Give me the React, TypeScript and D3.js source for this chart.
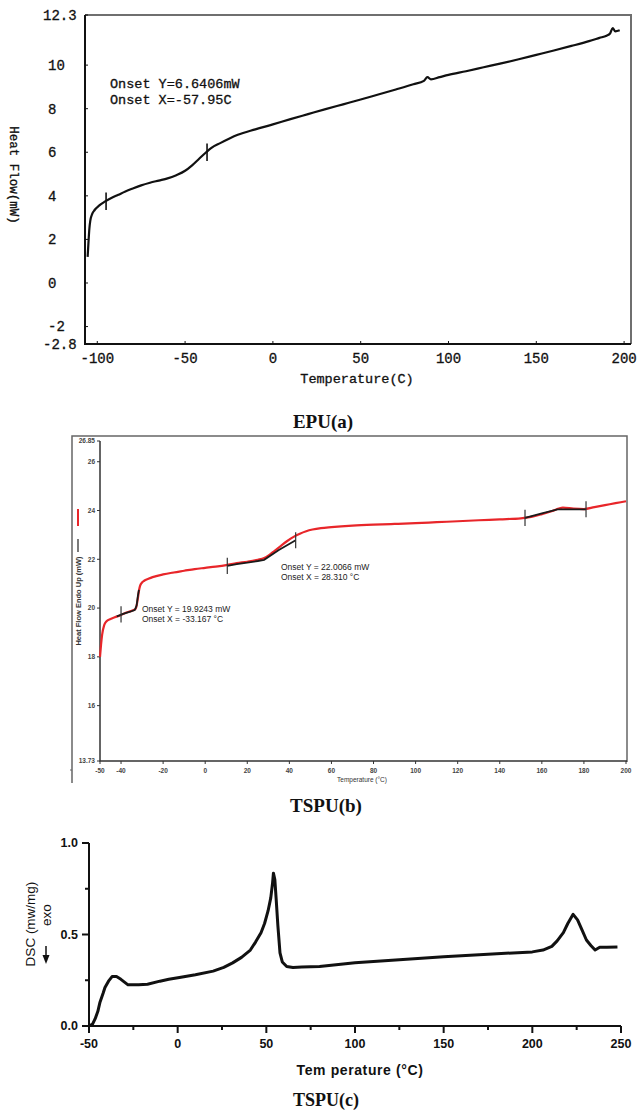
import * as d3 from 'd3';
import { useEffect, useRef } from 'react';

// EPU(a) heat flow curve
const epuTemp = [-105.5, -105, -104.5, -104, -103, -101.5, -99, -96, -92, -88, -84, -80, -75, -70, -65, -60, -55, -50, -46, -42, -38, -35, -30, -25, -20, -10, 0, 10, 20, 30, 40, 50, 60, 70, 80, 86, 88, 90, 95, 100, 110, 120, 130, 140, 150, 160, 170, 180, 186, 190, 192, 193.5, 195, 197.5];
const epuFlow = [1.2, 1.9, 2.5, 2.85, 3.15, 3.35, 3.55, 3.72, 3.9, 4.05, 4.2, 4.33, 4.48, 4.6, 4.7, 4.8, 4.95, 5.15, 5.4, 5.7, 6.0, 6.2, 6.42, 6.62, 6.8, 7.05, 7.28, 7.52, 7.75, 7.98, 8.2, 8.42, 8.65, 8.88, 9.12, 9.28, 9.45, 9.35, 9.45, 9.55, 9.72, 9.9, 10.08, 10.27, 10.47, 10.67, 10.88, 11.1, 11.25, 11.35, 11.45, 11.7, 11.55, 11.6];
const epuMarkTemp = [-95, -37.5];
const epuMarkFlow = [3.75, 6.0];
const epuYTicks = [12.3, 10, 8, 6, 4, 2, 0, -2, -2.8];
const epuYLabels = ['12.3', '10', '8', '6', '4', '2', '0', '-2', '-2.8'];
const epuXTicks = [-100, -50, 0, 50, 100, 150, 200];
const epuNotes = ['Onset Y=6.6406mW', 'Onset X=-57.95C'];

// TSPU(b) heat flow curve (red) and the black baseline fits
const tspuBTemp = [-50, -49.5, -49, -48, -47, -45, -43, -40, -38, -36, -34, -33, -32.5, -32, -31.5, -31, -30, -29, -27, -25, -20, -15, -10, -5, 0, 5, 10, 15, 20, 25, 28, 30, 33, 36, 39, 42, 45, 48, 51, 55, 60, 70, 80, 90, 100, 110, 120, 130, 140, 150, 155, 160, 165, 168, 170, 175, 180, 185, 190, 195, 200];
const tspuBFlow = [18.0, 18.5, 18.9, 19.3, 19.45, 19.55, 19.62, 19.72, 19.8, 19.86, 19.92, 19.98, 20.15, 20.4, 20.7, 20.9, 21.05, 21.12, 21.2, 21.27, 21.38, 21.46, 21.53, 21.6, 21.65, 21.7, 21.76, 21.84, 21.9, 21.98, 22.05, 22.15, 22.35, 22.55, 22.75, 22.92, 23.05, 23.15, 23.22, 23.28, 23.32, 23.38, 23.42, 23.45, 23.48, 23.52, 23.56, 23.6, 23.64, 23.68, 23.74, 23.85, 23.98, 24.08, 24.12, 24.08, 24.06, 24.14, 24.22, 24.3, 24.38];
const tspuBBaseTemp = [
  [-42, -39, -36, -33.5, -32.6, -32, -31.5],
  [10.5, 15, 20, 25, 28, 35, 43],
  [152, 160, 167.5, 181],
];
const tspuBBaseFlow = [
  [19.66, 19.76, 19.84, 19.92, 20.1, 20.5, 20.75],
  [21.73, 21.8, 21.86, 21.93, 21.98, 22.38, 22.78],
  [23.7, 23.88, 24.05, 24.05],
];
const tspuBMarkTemp = [-40, 10.5, 43, 152, 181];
const tspuBMarkFlow = [19.74, 21.73, 22.78, 23.7, 24.05];
const tspuBYTicks = [26.85, 26, 24, 22, 20, 18, 16, 13.73];
const tspuBXTicks = [-50, -40, -20, 0, 20, 40, 60, 80, 100, 120, 140, 160, 180, 200];
const tspuBNotes1 = ['Onset Y = 19.9243 mW', 'Onset X = -33.167 °C'];
const tspuBNotes2 = ['Onset Y = 22.0066 mW', 'Onset X = 28.310 °C'];

// TSPU(c) DSC curve
const tspuCTemp = [-50, -48, -46.5, -45, -43.8, -42, -41, -39, -37, -34.5, -32, -28, -22, -17, -10, -5, 1, 10, 20, 26, 31, 36, 41, 44, 47, 49, 51, 52.5, 53.5, 54, 54.8, 55.5, 56.5, 57.7, 59, 61.5, 65, 70, 80, 100, 125, 150, 175, 200, 206, 211, 214, 217.5, 220, 223, 225.5, 228, 230.5, 233, 235.4, 238, 242, 248];
const tspuCDsc = [0.0, 0.01, 0.04, 0.08, 0.13, 0.18, 0.21, 0.245, 0.27, 0.27, 0.255, 0.225, 0.225, 0.228, 0.245, 0.255, 0.265, 0.28, 0.3, 0.32, 0.345, 0.375, 0.415, 0.46, 0.51, 0.56, 0.63, 0.7, 0.78, 0.835, 0.8, 0.7, 0.55, 0.4, 0.35, 0.325, 0.32, 0.322, 0.325, 0.345, 0.362, 0.378, 0.392, 0.405, 0.415, 0.435, 0.465, 0.51, 0.56, 0.61, 0.58, 0.525, 0.47, 0.44, 0.415, 0.43, 0.43, 0.432];
const tspuCYTicks = [0, 0.5, 1];
const tspuCYLabels = ['0.0', '0.5', '1.0'];
const tspuCYMinor = [0.25, 0.75];
const tspuCXTicks = [-50, 0, 50, 100, 150, 200, 250];
const tspuCXMinor = [-25, 25, 75, 125, 175, 225];

const App = () => {
  const svgRef = useRef(null);

  useEffect(() => {
    const width = 637;
    const height = 1111;
    const svg = d3.select(svgRef.current);
    svg.selectAll('*').remove();
    svg.attr('width', width).attr('height', height);
    svg.append('rect').attr('width', width).attr('height', height).attr('fill', '#fff');

    const mono = '"Liberation Mono", "DejaVu Sans Mono", monospace';
    const serif = '"Liberation Serif", "DejaVu Serif", serif';
    const sans = '"Liberation Sans", Arial, sans-serif';

    // ---------- EPU(a) ----------
    const xA = d3.scaleLinear().domain([-107, 204.5]).range([85, 632]);
    const yA = d3.scaleLinear().domain([-2.8, 12.3]).range([344, 15]);
    const a = svg.append('g');
    const [ax0, ax1] = xA.range();
    const [ay0, ay1] = yA.range();

    // grey frame top and right
    a.append('path')
      .attr('d', `M${ax0},${ay1}H${ax1 - 1}V${ay0}`)
      .attr('fill', 'none')
      .attr('stroke', '#6f6f6f')
      .attr('stroke-width', 2);
    // black axes
    a.append('path')
      .attr('d', `M${ax0},${ay1}V${ay0}H${ax1 - 1}`)
      .attr('fill', 'none')
      .attr('stroke', '#111')
      .attr('stroke-width', 2);

    a.selectAll('.ytick')
      .data(epuYTicks)
      .enter()
      .append('line')
      .attr('x1', ax0)
      .attr('x2', ax0 + 3)
      .attr('y1', (d) => yA(d))
      .attr('y2', (d) => yA(d))
      .attr('stroke', '#111');
    a.selectAll('.ylab')
      .data(epuYTicks)
      .enter()
      .append('text')
      .attr('x', (d, i) => (epuYLabels[i].length > 2 ? 43 : 48))
      .attr('y', (d) => yA(d))
      .attr('dy', '0.35em')
      .style('font-family', mono)
      .style('font-size', '14px')
      .attr('fill', '#111')
      .attr('stroke', '#111')
      .attr('stroke-width', 0.3)
      .text((d, i) => epuYLabels[i]);

    a.selectAll('.xtick')
      .data(epuXTicks)
      .enter()
      .append('line')
      .attr('x1', (d) => xA(d))
      .attr('x2', (d) => xA(d))
      .attr('y1', ay0)
      .attr('y2', ay0 - 3)
      .attr('stroke', '#111');
    a.selectAll('.xlab')
      .data(epuXTicks)
      .enter()
      .append('text')
      .attr('x', (d) => xA(d))
      .attr('y', 358)
      .attr('dy', '0.35em')
      .style('text-anchor', 'middle')
      .style('font-family', mono)
      .style('font-size', '14px')
      .attr('fill', '#111')
      .attr('stroke', '#111')
      .attr('stroke-width', 0.3)
      .text((d) => String(d));

    a.append('text')
      .attr('x', 357)
      .attr('y', 378)
      .attr('dy', '0.35em')
      .style('text-anchor', 'middle')
      .style('font-family', mono)
      .style('font-size', '13.5px')
      .attr('fill', '#111')
      .attr('stroke', '#111')
      .attr('stroke-width', 0.3)
      .text('Temperature(C)');
    a.append('text')
      .attr('transform', 'translate(14,175) rotate(90)')
      .attr('dy', '0.35em')
      .style('text-anchor', 'middle')
      .style('font-family', mono)
      .style('font-size', '12.5px')
      .attr('fill', '#111')
      .attr('stroke', '#111')
      .attr('stroke-width', 0.3)
      .text('Heat Flow(mW)');

    epuNotes.forEach((t, i) => {
      a.append('text')
        .attr('x', 110)
        .attr('y', 83 + i * 16)
        .attr('dy', '0.35em')
        .style('font-family', mono)
        .style('font-size', '13.5px')
        .attr('fill', '#111')
        .attr('stroke', '#111')
        .attr('stroke-width', 0.3)
        .text(t);
    });

    const lineA = d3
      .line<number>()
      .x((d, i) => xA(epuTemp[i]))
      .y((d) => yA(d))
      .curve(d3.curveMonotoneX);
    a.append('path')
      .attr('d', lineA(epuFlow))
      .attr('fill', 'none')
      .attr('stroke', '#111')
      .attr('stroke-width', 2.2)
      .attr('stroke-linejoin', 'round');

    a.selectAll('.mark')
      .data(epuMarkTemp)
      .enter()
      .append('line')
      .attr('x1', (d) => xA(d))
      .attr('x2', (d) => xA(d))
      .attr('y1', (d, i) => yA(epuMarkFlow[i] - 0.4))
      .attr('y2', (d, i) => yA(epuMarkFlow[i] + 0.4))
      .attr('stroke', '#111')
      .attr('stroke-width', 1.6);

    a.append('text')
      .attr('x', 323)
      .attr('y', 421)
      .attr('dy', '0.35em')
      .style('text-anchor', 'middle')
      .style('font-family', serif)
      .style('font-weight', 'bold')
      .style('font-size', '19px')
      .attr('fill', '#111')
      .text('EPU(a)');

    // ---------- TSPU(b) ----------
    const xB = d3.scaleLinear().domain([-50, 200]).range([100, 626]);
    const yB = d3.scaleLinear().domain([13.73, 26.85]).range([761, 441]);
    const b = svg.append('g');
    const [bx0, bx1] = xB.range();
    const [by0, by1] = yB.range();

    b.append('path')
      .attr('d', `M72,783V436H${bx1 + 1}V${by0 + 1}`)
      .attr('fill', 'none')
      .attr('stroke', '#666')
      .attr('stroke-width', 1.5);
    b.append('line').attr('x1', 70).attr('x2', 72).attr('y1', 770).attr('y2', 770).attr('stroke', '#666');
    b.append('path')
      .attr('d', `M${bx0},${by1}V${by0}H${bx1 + 1}`)
      .attr('fill', 'none')
      .attr('stroke', '#333')
      .attr('stroke-width', 1.5);

    b.selectAll('.ytick')
      .data(tspuBYTicks)
      .enter()
      .append('line')
      .attr('x1', bx0 - 3)
      .attr('x2', bx0)
      .attr('y1', (d) => yB(d))
      .attr('y2', (d) => yB(d))
      .attr('stroke', '#333');
    b.selectAll('.ylab')
      .data(tspuBYTicks)
      .enter()
      .append('text')
      .attr('x', 95)
      .attr('y', (d) => yB(d))
      .attr('dy', '0.35em')
      .style('text-anchor', 'end')
      .style('font-family', sans)
      .style('font-weight', 'bold')
      .style('font-size', '6.5px')
      .attr('fill', '#444')
      .text((d) => String(d));

    b.selectAll('.xtick')
      .data(tspuBXTicks)
      .enter()
      .append('line')
      .attr('x1', (d) => xB(d))
      .attr('x2', (d) => xB(d))
      .attr('y1', by0)
      .attr('y2', by0 + 3)
      .attr('stroke', '#333');
    b.selectAll('.xlab')
      .data(tspuBXTicks)
      .enter()
      .append('text')
      .attr('x', (d) => xB(d))
      .attr('y', 771)
      .attr('dy', '0.35em')
      .style('text-anchor', 'middle')
      .style('font-family', sans)
      .style('font-weight', 'bold')
      .style('font-size', '6.5px')
      .attr('fill', '#444')
      .text((d) => String(d));

    b.append('text')
      .attr('x', 362)
      .attr('y', 780)
      .attr('dy', '0.35em')
      .style('text-anchor', 'middle')
      .style('font-family', sans)
      .style('font-size', '6.5px')
      .attr('fill', '#333')
      .text('Temperature (°C)');

    // y title with line legend
    b.append('line').attr('x1', 78).attr('x2', 78).attr('y1', 509).attr('y2', 526).attr('stroke', '#e8262a').attr('stroke-width', 2);
    b.append('line').attr('x1', 78).attr('x2', 78).attr('y1', 539).attr('y2', 552).attr('stroke', '#222').attr('stroke-width', 1.2);
    b.append('text')
      .attr('transform', 'translate(78,601) rotate(-90)')
      .attr('dy', '0.35em')
      .style('text-anchor', 'middle')
      .style('font-family', sans)
      .style('font-weight', 'bold')
      .style('font-size', '7.5px')
      .attr('fill', '#333')
      .text('Heat Flow Endo Up (mW)');

    const lineB = d3
      .line<number>()
      .x((d, i) => xB(tspuBTemp[i]))
      .y((d) => yB(d))
      .curve(d3.curveMonotoneX);
    b.append('path')
      .attr('d', lineB(tspuBFlow))
      .attr('fill', 'none')
      .attr('stroke', '#e8262a')
      .attr('stroke-width', 2.2)
      .attr('stroke-linejoin', 'round');

    tspuBBaseTemp.forEach((temps, k) => {
      const seg = d3
        .line<number>()
        .x((d, i) => xB(temps[i]))
        .y((d) => yB(d));
      b.append('path')
        .attr('d', seg(tspuBBaseFlow[k]))
        .attr('fill', 'none')
        .attr('stroke', '#1a1a1a')
        .attr('stroke-width', 1.8);
    });

    b.selectAll('.mark')
      .data(tspuBMarkTemp)
      .enter()
      .append('line')
      .attr('x1', (d) => xB(d))
      .attr('x2', (d) => xB(d))
      .attr('y1', (d, i) => yB(tspuBMarkFlow[i] - 0.33))
      .attr('y2', (d, i) => yB(tspuBMarkFlow[i] + 0.33))
      .attr('stroke', '#333')
      .attr('stroke-width', 1.2);

    [tspuBNotes1, tspuBNotes2].forEach((notes, k) => {
      notes.forEach((t, i) => {
        b.append('text')
          .attr('x', k === 0 ? 142 : 281)
          .attr('y', (k === 0 ? 609 : 567) + i * 10)
          .attr('dy', '0.35em')
          .style('font-family', sans)
          .style('font-size', '8.5px')
          .attr('fill', '#222')
          .text(t);
      });
    });

    b.append('text')
      .attr('x', 326)
      .attr('y', 805)
      .attr('dy', '0.35em')
      .style('text-anchor', 'middle')
      .style('font-family', serif)
      .style('font-weight', 'bold')
      .style('font-size', '19px')
      .attr('fill', '#111')
      .text('TSPU(b)');

    // ---------- TSPU(c) ----------
    const xC = d3.scaleLinear().domain([-50, 250]).range([89, 621]);
    const yC = d3.scaleLinear().domain([0, 1]).range([1026, 843]);
    const c = svg.append('g');
    const [cx0, cx1] = xC.range();
    const [cy0, cy1] = yC.range();

    c.append('path')
      .attr('d', `M${cx0},${cy1}V${cy0}H${cx1}`)
      .attr('fill', 'none')
      .attr('stroke', '#111')
      .attr('stroke-width', 2);

    c.selectAll('.ytick')
      .data(tspuCYTicks)
      .enter()
      .append('line')
      .attr('x1', cx0 - 7)
      .attr('x2', cx0)
      .attr('y1', (d) => yC(d))
      .attr('y2', (d) => yC(d))
      .attr('stroke', '#111')
      .attr('stroke-width', 2);
    c.selectAll('.yminor')
      .data(tspuCYMinor)
      .enter()
      .append('line')
      .attr('x1', cx0 - 4)
      .attr('x2', cx0)
      .attr('y1', (d) => yC(d))
      .attr('y2', (d) => yC(d))
      .attr('stroke', '#111')
      .attr('stroke-width', 2);
    c.selectAll('.ylab')
      .data(tspuCYTicks)
      .enter()
      .append('text')
      .attr('x', 78)
      .attr('y', (d) => yC(d))
      .attr('dy', '0.35em')
      .style('text-anchor', 'end')
      .style('font-family', sans)
      .style('font-weight', 'bold')
      .style('font-size', '12.5px')
      .attr('fill', '#111')
      .text((d, i) => tspuCYLabels[i]);

    c.selectAll('.xtick')
      .data(tspuCXTicks)
      .enter()
      .append('line')
      .attr('x1', (d) => xC(d))
      .attr('x2', (d) => xC(d))
      .attr('y1', cy0)
      .attr('y2', cy0 + 7)
      .attr('stroke', '#111')
      .attr('stroke-width', 2);
    c.selectAll('.xminor')
      .data(tspuCXMinor)
      .enter()
      .append('line')
      .attr('x1', (d) => xC(d))
      .attr('x2', (d) => xC(d))
      .attr('y1', cy0)
      .attr('y2', cy0 + 4)
      .attr('stroke', '#111')
      .attr('stroke-width', 2);
    c.selectAll('.xlab')
      .data(tspuCXTicks)
      .enter()
      .append('text')
      .attr('x', (d) => xC(d))
      .attr('y', 1044)
      .attr('dy', '0.35em')
      .style('text-anchor', 'middle')
      .style('font-family', sans)
      .style('font-weight', 'bold')
      .style('font-size', '12.5px')
      .attr('fill', '#111')
      .text((d) => String(d));

    c.append('text')
      .attr('x', 360)
      .attr('y', 1070)
      .attr('dy', '0.35em')
      .style('text-anchor', 'middle')
      .style('font-family', sans)
      .style('font-weight', 'bold')
      .style('font-size', '14px')
      .style('letter-spacing', '0.6px')
      .attr('fill', '#111')
      .text('Tem perature (°C)');

    c.append('text')
      .attr('transform', 'translate(30,924) rotate(-90)')
      .attr('dy', '0.35em')
      .style('text-anchor', 'middle')
      .style('font-family', sans)
      .style('font-size', '13.5px')
      .attr('fill', '#111')
      .text('DSC (mw/mg)');
    c.append('text')
      .attr('transform', 'translate(46,915) rotate(-90)')
      .attr('dy', '0.35em')
      .style('text-anchor', 'middle')
      .style('font-family', sans)
      .style('font-size', '13.5px')
      .attr('fill', '#111')
      .text('exo');
    c.append('path').attr('d', 'M46,946V958').attr('stroke', '#111').attr('stroke-width', 1.5);
    c.append('path').attr('d', 'M42.5,955L46,964L49.5,955Z').attr('fill', '#111');

    const lineC = d3
      .line<number>()
      .x((d, i) => xC(tspuCTemp[i]))
      .y((d) => yC(d));
    c.append('path')
      .attr('d', lineC(tspuCDsc))
      .attr('fill', 'none')
      .attr('stroke', '#111')
      .attr('stroke-width', 3)
      .attr('stroke-linejoin', 'round');

    c.append('text')
      .attr('x', 326)
      .attr('y', 1106)
      .style('text-anchor', 'middle')
      .style('font-family', serif)
      .style('font-weight', 'bold')
      .style('font-size', '18px')
      .attr('fill', '#111')
      .text('TSPU(c)');
  }, []);

  return <svg ref={svgRef} style={{ position: 'absolute', left: 0, top: 0, display: 'block' }} />;
};

export default App;
